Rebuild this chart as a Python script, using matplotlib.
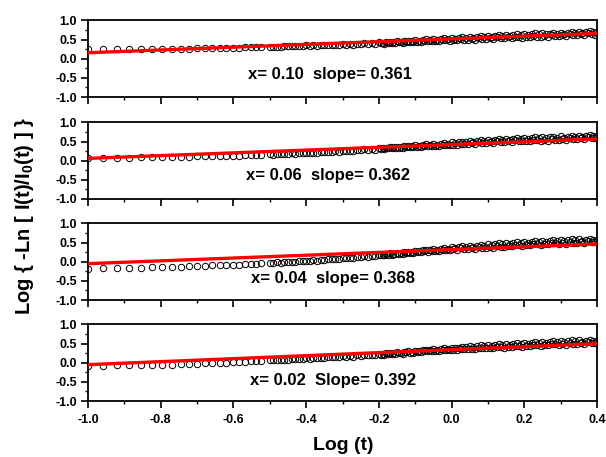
import matplotlib
matplotlib.use("Agg")
import matplotlib.pyplot as plt
from matplotlib.ticker import FormatStrFormatter
import numpy as np

plt.rcParams['font.family'] = ['Liberation Sans', 'DejaVu Sans']
plt.rcParams['mathtext.fontset'] = 'custom'
plt.rcParams['mathtext.rm'] = 'Liberation Sans:bold'
plt.rcParams['mathtext.bf'] = 'Liberation Sans:bold'
plt.rcParams['mathtext.default'] = 'bf'

# log(t) sample positions (shared by all four data sets)
log_t = [-1.000, -0.959, -0.921, -0.886, -0.854, -0.824, -0.796, -0.770, -0.745, -0.721,
         -0.699, -0.678, -0.658, -0.638, -0.620, -0.602, -0.585, -0.569, -0.553, -0.538,
         -0.523,
         -0.50, -0.49, -0.48, -0.47, -0.46, -0.45, -0.44, -0.43, -0.42, -0.41,
         -0.40, -0.39, -0.38, -0.37, -0.36, -0.35, -0.34, -0.33, -0.32, -0.31,
         -0.30, -0.29, -0.28, -0.27, -0.26, -0.25, -0.24, -0.23, -0.22, -0.21,
         -0.200, -0.195, -0.190, -0.185, -0.180, -0.175, -0.170, -0.165, -0.160, -0.155,
         -0.150, -0.145, -0.140, -0.135, -0.130, -0.125, -0.120, -0.115, -0.110, -0.105,
         -0.100, -0.095, -0.090, -0.085, -0.080, -0.075, -0.070, -0.065, -0.060, -0.055,
         -0.050, -0.045, -0.040, -0.035, -0.030, -0.025, -0.020, -0.015, -0.010, -0.005,
         0.000, 0.005, 0.010, 0.015, 0.020, 0.025, 0.030, 0.035, 0.040, 0.045,
         0.050, 0.055, 0.060, 0.065, 0.070, 0.075, 0.080, 0.085, 0.090, 0.095,
         0.100, 0.105, 0.110, 0.115, 0.120, 0.125, 0.130, 0.135, 0.140, 0.145,
         0.150, 0.155, 0.160, 0.165, 0.170, 0.175, 0.180, 0.185, 0.190, 0.195,
         0.200, 0.205, 0.210, 0.215, 0.220, 0.225, 0.230, 0.235, 0.240, 0.245,
         0.250, 0.255, 0.260, 0.265, 0.270, 0.275, 0.280, 0.285, 0.290, 0.295,
         0.300, 0.305, 0.310, 0.315, 0.320, 0.325, 0.330, 0.335, 0.340, 0.345,
         0.350, 0.355, 0.360, 0.365, 0.370, 0.375, 0.380, 0.385, 0.390, 0.395,
         0.400]

y_x010 = [0.25, 0.25, 0.25, 0.25, 0.25, 0.255, 0.255, 0.26, 0.26, 0.265,
          0.27, 0.275, 0.28, 0.28, 0.285, 0.29, 0.29, 0.295, 0.30, 0.30,
          0.305,
          0.315, 0.310, 0.317, 0.313, 0.326, 0.324, 0.334, 0.327, 0.336, 0.332,
          0.349, 0.338, 0.348, 0.339, 0.358, 0.353, 0.368, 0.354, 0.368, 0.358,
          0.384, 0.367, 0.381, 0.367, 0.395, 0.387, 0.409, 0.388, 0.408, 0.393,
          0.428, 0.403, 0.419, 0.398, 0.432, 0.419, 0.445, 0.414, 0.438, 0.415,
          0.458, 0.425, 0.445, 0.418, 0.460, 0.443, 0.475, 0.435, 0.465, 0.435,
          0.487, 0.448, 0.471, 0.438, 0.488, 0.467, 0.505, 0.457, 0.492, 0.456,
          0.517, 0.470, 0.497, 0.458, 0.516, 0.491, 0.535, 0.478, 0.519, 0.476,
          0.546, 0.493, 0.523, 0.478, 0.544, 0.514, 0.565, 0.500, 0.546, 0.497,
          0.576, 0.515, 0.549, 0.498, 0.572, 0.539, 0.595, 0.521, 0.573, 0.517,
          0.605, 0.537, 0.574, 0.516, 0.598, 0.560, 0.622, 0.539, 0.596, 0.533,
          0.625, 0.557, 0.594, 0.536, 0.618, 0.580, 0.642, 0.559, 0.616, 0.553,
          0.645, 0.577, 0.614, 0.556, 0.638, 0.600, 0.662, 0.579, 0.636, 0.573,
          0.665, 0.597, 0.634, 0.576, 0.658, 0.620, 0.682, 0.599, 0.656, 0.593,
          0.685, 0.617, 0.654, 0.596, 0.678, 0.640, 0.702, 0.619, 0.676, 0.613,
          0.705, 0.637, 0.674, 0.616, 0.698, 0.660, 0.722, 0.639, 0.696, 0.633,
          0.69]

y_x006 = [0.07, 0.074, 0.078, 0.081, 0.085, 0.088, 0.09, 0.096, 0.10, 0.105,
          0.11, 0.114, 0.118, 0.122, 0.126, 0.13, 0.134, 0.139, 0.144, 0.149,
          0.153,
          0.165, 0.161, 0.169, 0.166, 0.180, 0.179, 0.190, 0.184, 0.194, 0.191,
          0.209, 0.200, 0.212, 0.205, 0.226, 0.223, 0.240, 0.228, 0.244, 0.236,
          0.264, 0.249, 0.265, 0.253, 0.283, 0.277, 0.301, 0.282, 0.304, 0.291,
          0.328, 0.304, 0.321, 0.301, 0.336, 0.324, 0.351, 0.321, 0.346, 0.324,
          0.368, 0.336, 0.357, 0.331, 0.374, 0.358, 0.391, 0.352, 0.383, 0.354,
          0.407, 0.368, 0.392, 0.359, 0.410, 0.389, 0.428, 0.380, 0.416, 0.380,
          0.442, 0.396, 0.423, 0.384, 0.443, 0.418, 0.463, 0.407, 0.448, 0.406,
          0.476, 0.423, 0.454, 0.409, 0.476, 0.447, 0.498, 0.433, 0.480, 0.431,
          0.511, 0.451, 0.485, 0.434, 0.509, 0.476, 0.533, 0.460, 0.512, 0.457,
          0.545, 0.477, 0.515, 0.457, 0.540, 0.503, 0.565, 0.482, 0.540, 0.477,
          0.570, 0.502, 0.540, 0.482, 0.565, 0.528, 0.590, 0.507, 0.565, 0.502,
          0.595, 0.527, 0.564, 0.506, 0.588, 0.550, 0.612, 0.529, 0.586, 0.523,
          0.615, 0.547, 0.584, 0.526, 0.608, 0.570, 0.632, 0.549, 0.606, 0.543,
          0.635, 0.567, 0.604, 0.546, 0.628, 0.590, 0.652, 0.569, 0.626, 0.563,
          0.655, 0.587, 0.624, 0.566, 0.648, 0.610, 0.672, 0.589, 0.646, 0.583,
          0.64]

y_x004 = [-0.18, -0.172, -0.164, -0.157, -0.151, -0.145, -0.139, -0.133, -0.126, -0.118,
          -0.11, -0.104, -0.097, -0.091, -0.086, -0.08, -0.072, -0.064, -0.056, -0.049,
          -0.041,
          -0.025, -0.028, -0.019, -0.021, -0.006, -0.006, 0.006, 0.001, 0.012, 0.010,
          0.029, 0.022, 0.036, 0.031, 0.054, 0.053, 0.072, 0.062, 0.080, 0.074,
          0.104, 0.091, 0.109, 0.099, 0.131, 0.127, 0.153, 0.136, 0.160, 0.149,
          0.188, 0.165, 0.183, 0.164, 0.200, 0.189, 0.217, 0.188, 0.214, 0.193,
          0.238, 0.207, 0.229, 0.204, 0.248, 0.233, 0.267, 0.229, 0.261, 0.233,
          0.287, 0.249, 0.274, 0.242, 0.294, 0.274, 0.314, 0.267, 0.304, 0.269,
          0.332, 0.287, 0.315, 0.277, 0.337, 0.313, 0.359, 0.304, 0.346, 0.305,
          0.376, 0.324, 0.355, 0.311, 0.378, 0.350, 0.401, 0.337, 0.384, 0.336,
          0.416, 0.356, 0.391, 0.341, 0.416, 0.384, 0.441, 0.368, 0.421, 0.366,
          0.455, 0.388, 0.426, 0.369, 0.452, 0.415, 0.478, 0.396, 0.454, 0.392,
          0.485, 0.418, 0.456, 0.399, 0.482, 0.445, 0.508, 0.426, 0.484, 0.422,
          0.515, 0.447, 0.485, 0.427, 0.510, 0.473, 0.535, 0.452, 0.510, 0.447,
          0.540, 0.472, 0.510, 0.452, 0.535, 0.498, 0.560, 0.477, 0.535, 0.472,
          0.565, 0.497, 0.534, 0.476, 0.558, 0.520, 0.582, 0.499, 0.556, 0.493,
          0.585, 0.517, 0.554, 0.496, 0.578, 0.540, 0.602, 0.519, 0.576, 0.513,
          0.57]

y_x002 = [-0.08, -0.076, -0.072, -0.068, -0.064, -0.059, -0.054, -0.047, -0.04, -0.032,
          -0.025, -0.018, -0.011, -0.004, 0.003, 0.01, 0.018, 0.026, 0.034, 0.041,
          0.048,
          0.065, 0.062, 0.071, 0.069, 0.084, 0.084, 0.096, 0.091, 0.102, 0.100,
          0.119, 0.110, 0.122, 0.115, 0.136, 0.133, 0.150, 0.138, 0.154, 0.146,
          0.174, 0.159, 0.175, 0.163, 0.193, 0.187, 0.211, 0.192, 0.214, 0.201,
          0.238, 0.214, 0.231, 0.211, 0.246, 0.234, 0.261, 0.231, 0.256, 0.234,
          0.278, 0.246, 0.267, 0.241, 0.284, 0.268, 0.301, 0.262, 0.293, 0.264,
          0.317, 0.279, 0.303, 0.271, 0.322, 0.302, 0.341, 0.294, 0.330, 0.295,
          0.357, 0.311, 0.339, 0.301, 0.360, 0.336, 0.381, 0.325, 0.367, 0.325,
          0.396, 0.343, 0.374, 0.329, 0.396, 0.367, 0.418, 0.353, 0.400, 0.351,
          0.431, 0.371, 0.405, 0.354, 0.429, 0.396, 0.453, 0.380, 0.432, 0.377,
          0.465, 0.397, 0.435, 0.377, 0.460, 0.423, 0.485, 0.402, 0.460, 0.397,
          0.490, 0.422, 0.460, 0.402, 0.485, 0.448, 0.510, 0.427, 0.485, 0.422,
          0.515, 0.447, 0.485, 0.427, 0.510, 0.473, 0.535, 0.452, 0.510, 0.447,
          0.540, 0.472, 0.510, 0.452, 0.535, 0.498, 0.560, 0.477, 0.535, 0.472,
          0.565, 0.497, 0.534, 0.476, 0.558, 0.520, 0.582, 0.499, 0.556, 0.493,
          0.585, 0.517, 0.554, 0.496, 0.578, 0.540, 0.602, 0.519, 0.576, 0.513,
          0.57]

# linear fits: slope and value at log(t) = 0
slopes = [0.361, 0.362, 0.368, 0.392]
intercepts = [0.518, 0.422, 0.318, 0.342]
labels = ["x= 0.10  slope= 0.361", "x= 0.06  slope= 0.362",
          "x= 0.04  slope= 0.368", "x= 0.02  Slope= 0.392"]
series = [y_x010, y_x006, y_x004, y_x002]

fig = plt.figure(figsize=(6.06, 4.57), dpi=100)
bottoms = [0.7877, 0.5646, 0.3435, 0.1225]
label_pos = [(-0.335, -0.40), (-0.34, -0.38), (-0.325, -0.43), (-0.325, -0.46)]
x = np.array(log_t)
fit_x = np.array([-1.0, 0.4])

for i in range(4):
    ax = fig.add_axes([0.1452, bottoms[i], 0.840, 0.1675])
    ax.plot(x, series[i], 'o', ms=4.6, mfc='none', mec='black', mew=0.7, zorder=2)
    ax.plot(fit_x, slopes[i] * fit_x + intercepts[i], color='red', lw=2.4, zorder=3)
    ax.text(label_pos[i][0], label_pos[i][1], labels[i], ha='center', va='center',
            fontsize=12, fontweight='bold')

    ax.set_xlim(-1.0, 0.4)
    ax.set_ylim(-1.0, 1.0)
    ax.set_yticks([-1.0, -0.5, 0.0, 0.5, 1.0])
    ax.set_yticks([-0.75, -0.25, 0.25, 0.75], minor=True)
    ax.set_xticks([-1.0, -0.8, -0.6, -0.4, -0.2, 0.0, 0.2, 0.4])
    ax.set_xticks([-0.9, -0.7, -0.5, -0.3, -0.1, 0.1, 0.3], minor=True)
    ax.yaxis.set_major_formatter(FormatStrFormatter('%.1f'))
    ax.xaxis.set_major_formatter(FormatStrFormatter('%.1f'))
    ax.tick_params(which='major', direction='out', length=5, width=1.2,
                   labelsize=9)
    ax.tick_params(axis='y', which='major', pad=3)
    ax.tick_params(axis='x', which='major', pad=4)
    ax.tick_params(which='minor', direction='out', length=2.5, width=1.0)
    for lab in ax.get_xticklabels() + ax.get_yticklabels():
        lab.set_fontweight('bold')
    if i < 3:
        ax.tick_params(axis='x', labelbottom=False)
    for s in ax.spines.values():
        s.set_linewidth(1.3)

fig.text(0.040, 0.528, "Log { -Ln [ I(t)/I$_0$(t) ] }", rotation=90,
         ha='center', va='center', fontsize=14.5, fontweight='bold')
fig.text(0.566, 0.026, "Log (t)", ha='center', va='center',
         fontsize=14, fontweight='bold')

fig.savefig("out.png", dpi=100)
